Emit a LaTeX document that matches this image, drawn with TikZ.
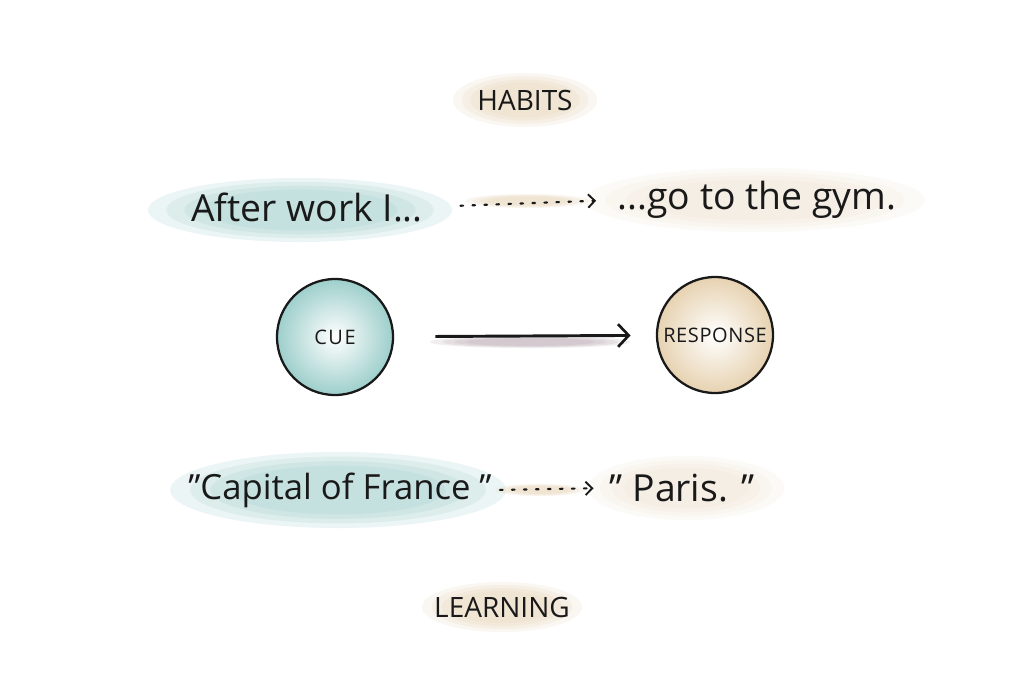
\documentclass[tikz,border=0pt]{standalone}
\usepackage{fontspec}
\setmainfont{Open Sans}
\usetikzlibrary{arrows.meta}
\definecolor{tealhl}{RGB}{140,198,194}
\definecolor{beigehl}{RGB}{228,205,168}
\definecolor{mauvehl}{RGB}{170,150,160}
\definecolor{ink}{RGB}{25,25,25}
\newcommand\softblob[5]{%
  \foreach \k in {1.0,0.88,0.76,0.64}{%
    \fill[#5,opacity=0.16] (#1,#2) ellipse [x radius={\k*#3*0.75pt}, y radius={\k*#4*0.75pt}];}}
\tikzset{
  lbl/.style={text=ink, inner sep=2pt},
  bigtxt/.style={lbl, font=\fontsize{28}{30}\selectfont},
  headtxt/.style={lbl, font=\fontsize{21}{24}\selectfont},
  ball/.style={circle, draw=ink, line width=1.7pt, minimum size=87pt, inner sep=0pt,
     font=\fontsize{15}{17}\selectfont\addfontfeature{LetterSpace=8}, text=ink},
  dotarrow/.style={draw=ink, line width=1.6pt, dash pattern=on 2pt off 7pt, line cap=round,
     -{Straight Barb[length=5pt,width=10pt,line width=1.4pt]}},
  mainarrow/.style={draw=ink, line width=2.2pt, -{Straight Barb[length=8pt,width=17pt,line width=2pt]}}
}
\begin{document}
\begin{tikzpicture}[x=0.75pt,y=-0.75pt]
\useasboundingbox (0,0) rectangle (1024,697);
\fill[white] (0,0) rectangle (1024,697);

% highlights
\softblob{525}{100}{72}{27}{beigehl}
\softblob{300}{210}{152}{32}{tealhl}
\softblob{755}{200}{170}{32}{beigehl!60}
\softblob{527}{201}{62}{7}{beigehl}
\softblob{530}{342}{100}{6}{mauvehl}
\softblob{338}{490}{168}{38}{tealhl}
\softblob{686}{488}{98}{32}{beigehl!60}
\softblob{540}{490}{45}{6}{beigehl}
\softblob{502}{607}{80}{25}{beigehl}

% labels
\node[headtxt] (habits) at (525,100) {HABITS};
\node[bigtxt] (after) at (307,207) {After work I...};
\node[bigtxt] (gym) at (757,200) {...go to the gym.};
\node[ball, inner color=white, outer color=tealhl!85] (cue) at (335,337) {CUE};
\node[ball, inner color=white, outer color=beigehl!90,
      font=\fontsize{15}{17}\selectfont\addfontfeature{LetterSpace=3}] (resp) at (715,335) {RESPONSE};
\node[bigtxt, font=\fontsize{26}{30}\selectfont] (capital) at (340,490) {"Capital of France "};
\node[bigtxt] (paris) at (682,488) {" Paris. "};
\node[headtxt] (learning) at (502,607) {LEARNING};

% connectors
\draw[dotarrow, shorten <=26pt, shorten >=14pt] (after.east) -- (gym.west);
\draw[mainarrow, shorten <=31pt, shorten >=19pt] (cue) -- (resp);
\draw[dotarrow, shorten <=4pt, shorten >=10pt] (capital.east) -- (paris.west);
\end{tikzpicture}
\end{document}
